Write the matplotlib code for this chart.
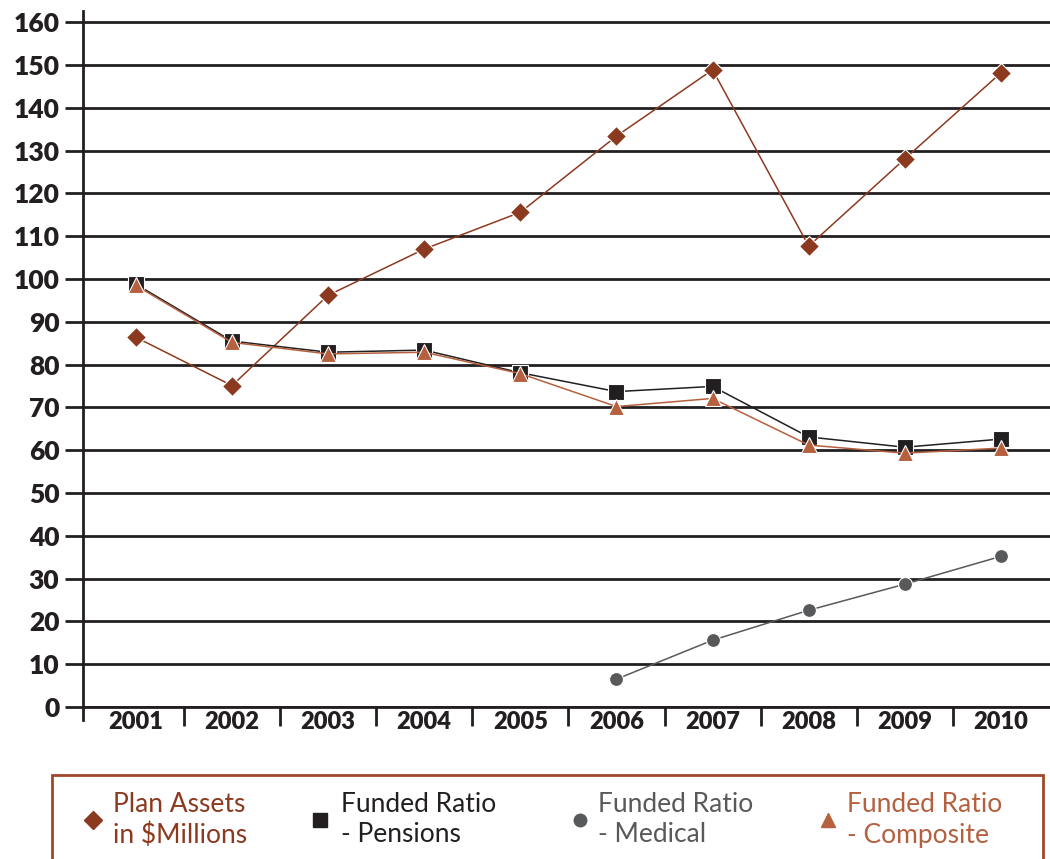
import numpy as np
import matplotlib
matplotlib.use('Agg')
import matplotlib.pyplot as plt
from matplotlib.lines import Line2D
from matplotlib.patches import Rectangle

plt.rcParams['font.family'] = ['Lato', 'DejaVu Sans']

years = ['2001', '2002', '2003', '2004', '2005', '2006', '2007', '2008', '2009', '2010']
plan_assets = [86.4, 75.1, 96.2, 107.0, 115.6, 133.4, 148.9, 107.7, 128.1, 148.2]
pensions = [98.8, 85.5, 82.9, 83.4, 78.1, 73.7, 74.9, 63.1, 60.7, 62.6]
medical = [np.nan, np.nan, np.nan, np.nan, np.nan, 6.5, 15.6, 22.6, 28.7, 35.2]
composite = [98.5, 85.2, 82.5, 82.9, 77.9, 70.2, 72.1, 61.2, 59.3, 60.5]
y_ticks = list(range(0, 161, 10))

C_ASSETS = '#8c3a1f'
C_PENS = '#231f20'
C_MED = '#58595b'
C_COMP = '#b5603f'
GRID = '#231f20'

fig = plt.figure(figsize=(10.5, 8.59), dpi=100)
ax = fig.add_axes([0.079, 0.177, 0.921, 0.810])

x = np.arange(len(years))
ax.plot(x, plan_assets, color=C_ASSETS, lw=1.1, marker='D', ms=10,
        mfc=C_ASSETS, mec='white', mew=0.8, zorder=4)
ax.plot(x, pensions, color=C_PENS, lw=1.1, marker='s', ms=11,
        mfc=C_PENS, mec='white', mew=0.8, zorder=4)
ax.plot(x, medical, color=C_MED, lw=1.1, marker='o', ms=10,
        mfc=C_MED, mec='white', mew=0.8, zorder=4)
ax.plot(x, composite, color=C_COMP, lw=1.1, marker='^', ms=12,
        mfc=C_COMP, mec='white', mew=0.8, zorder=5)

ax.set_xlim(-0.55, 9.51)
ax.set_ylim(0, 162.6)
ax.set_yticks(y_ticks)
ax.set_yticklabels([str(v) for v in y_ticks], fontsize=19, fontweight='heavy', color=GRID)
for v in y_ticks:
    ax.axhline(v, color=GRID, lw=2.0, zorder=1)
ax.tick_params(axis='y', length=13, width=2.0, color=GRID, pad=4)

# category labels centred, ticks on the boundaries
ax.set_xticks(x)
ax.set_xticklabels(years, fontsize=17, fontweight='heavy', color=GRID)
ax.tick_params(axis='x', which='major', length=0, pad=3)
ax.set_xticks(np.arange(0.5, len(years) - 1), minor=True)
ax.tick_params(axis='x', which='minor', length=14, width=2.0, color=GRID, direction='out')

for s in ['top', 'right']:
    ax.spines[s].set_visible(False)
ax.spines['left'].set_color(GRID)
ax.spines['left'].set_linewidth(2.0)
ax.spines['left'].set_bounds(-3.0, 162.6)
ax.spines['bottom'].set_color(GRID)
ax.spines['bottom'].set_linewidth(2.0)

# legend box drawn by hand
fig.add_artist(Rectangle((52 / 1050, -0.01), 991 / 1050, (859 - 775) / 859 + 0.01,
                         transform=fig.transFigure, fill=False,
                         edgecolor='#a0472b', lw=2.0))
entries = [
    (93, 113, 'D', 9, C_ASSETS, 'Plan Assets\nin $Millions'),
    (320, 341, 's', 10, C_PENS, 'Funded Ratio\n- Pensions'),
    (580, 598, 'o', 9, C_MED, 'Funded Ratio\n- Medical'),
    (828, 847, '^', 10, C_COMP, 'Funded Ratio\n- Composite'),
]
ym = 1 - 820 / 859
for mx, tx, mk, ms, col, label in entries:
    fig.add_artist(Line2D([mx / 1050], [ym], transform=fig.transFigure,
                          marker=mk, ms=ms, color=col, lw=0))
    fig.text(tx / 1050, ym, label, fontsize=19, color=col, ha='left', va='center',
             linespacing=1.25)

fig.savefig('out.png', dpi=100)
